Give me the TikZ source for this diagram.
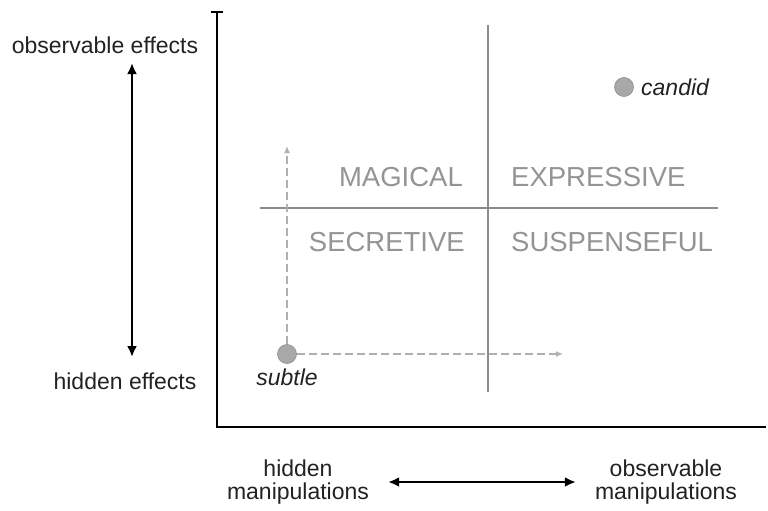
\documentclass[tikz,border=0pt]{standalone}
\usepackage{fontspec}
\setmainfont{Liberation Sans}
\usepackage{xcolor}
\usetikzlibrary{arrows.meta}
\definecolor{quadgray}{HTML}{949494}
\definecolor{linegray}{HTML}{8C8C8C}
\definecolor{guidegray}{HTML}{B0B0B0}
\definecolor{dotgray}{HTML}{A8A8A8}
\definecolor{textdark}{HTML}{222222}

\begin{document}
\begin{tikzpicture}[x=1pt,y=-1pt,
    lbl/.style={inner sep=0pt,text=textdark,font=\fontsize{23}{23}\selectfont,align=center},
    quad/.style={inner sep=0pt,text=quadgray,font=\fontsize{27.5}{28}\selectfont},
    dot/.style={circle,fill=dotgray,draw=linegray,line width=0.6pt,minimum size=19pt,inner sep=0pt},
    guide/.style={guidegray,line width=1.3pt,dash pattern=on 8pt off 4pt,-{Latex[length=7pt,width=6pt]}},
    bigarrow/.style={{Latex[length=11pt,width=10pt]}-{Latex[length=11pt,width=10pt]},line width=2.6pt,black}]
  \useasboundingbox (0,0) rectangle (768,511);
  % axes
  \draw[line width=1.4pt] (211,12) -- (223,12);
  \draw[line width=1.4pt] (217,12) -- (217,427) -- (766,427);
  % quadrants
  \draw[linegray,line width=1.5pt] (488,25) -- (488,392);
  \draw[linegray,line width=1.5pt] (260,208) -- (718,208);
  \node[quad,anchor=east] (magical) at (463,177) {MAGICAL};
  \node[quad,anchor=west] (expressive) at (511,177) {EXPRESSIVE};
  \node[quad,anchor=east] (secretive) at (465,242) {SECRETIVE};
  \node[quad,anchor=west] (suspenseful) at (511,242) {SUSPENSEFUL};
  % effects axis
  \node[lbl] (effobs) at (105,45) {observable effects};
  \node[lbl] (effhid) at (125,381) {hidden effects};
  \coordinate (effup) at (132,63);
  \coordinate (effdown) at (132,357);
  \draw[bigarrow] (effdown) -- (effup);
  % manipulations axis
  \node[lbl] (manhid) at (298,482) {hidden\\manipulations};
  \node[lbl] (manobs) at (666,482) {observable\\manipulations};
  \draw[bigarrow] ([xshift=19pt]manhid.east) -- ([xshift=-19pt]manobs.west);
  % examples
  \node[dot] (subtle) at (287,354) {};
  \node[lbl,font=\fontsize{23}{23}\selectfont\itshape,anchor=north] (subtlelbl) at (287,369) {subtle};
  \node[dot] (candid) at (624,87) {};
  \node[lbl,font=\fontsize{23}{23}\selectfont\itshape,anchor=west] (candidlbl) at (641,87) {candid};
  \coordinate (guideup) at (287,146);
  \coordinate (guideright) at (563,354);
  \draw[guide] (subtle.north) -- (guideup);
  \draw[guide] (subtle.east) -- (guideright);
\end{tikzpicture}
\end{document}
